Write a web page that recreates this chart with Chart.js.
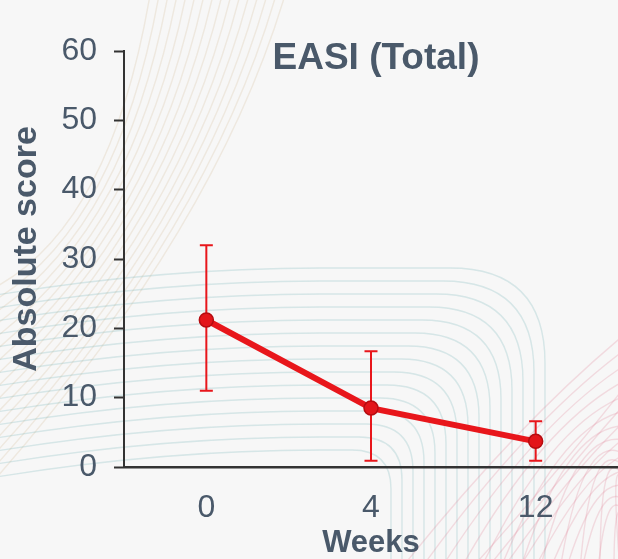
<!DOCTYPE html>
<html>
<head>
<meta charset="utf-8">
<script src="https://cdn.jsdelivr.net/npm/chart.js@4.4.0/dist/chart.umd.min.js"></script>
<style>
  html, body { margin: 0; padding: 0; background: #f7f7f7; }
  #wrap { position: relative; width: 618px; height: 559px; overflow: hidden; }
  #bg, #chart { position: absolute; left: 0; top: 0; }
</style>
</head>
<body>
<div id="wrap">
  <canvas id="bg" width="618" height="559"></canvas>
  <canvas id="chart" width="618" height="559"></canvas>
</div>
<script>
// EASI total score over time: mean with lower/upper whiskers
const weeks = ['0', '4', '12'];
const meanScore = [21.2, 8.5, 3.7];
const lowerBound = [11.0, 0.9, 0.9];
const upperBound = [32.0, 16.7, 6.6];
const yMin = 0, yMax = 60, yStep = 10;

const TEXT = '#4a596a';
const RED = '#e8161b';
const FONT = '"Liberation Sans", Arial, sans-serif';

// faint decorative line work behind the plot
(function drawBackdrop() {
  const c = document.getElementById('bg').getContext('2d');
  c.fillStyle = '#f7f7f7';
  c.fillRect(0, 0, 618, 559);
  c.lineWidth = 1.4;

  // warm sweeping lines, upper left
  c.strokeStyle = 'rgba(214,188,156,0.26)';
  for (let i = 0; i < 16; i++) {
    c.beginPath();
    c.moveTo(150 + i * 9, -5);
    c.quadraticCurveTo(110 + i * 7, 230, -10, 290 + i * 13);
    c.stroke();
  }
  // teal nested curves, lower middle
  c.strokeStyle = 'rgba(110,175,180,0.24)';
  for (let i = 0; i < 15; i++) {
    const y = 268 + i * 13, x = 545 - i * 11, r = 95 - i * 4;
    c.beginPath();
    c.moveTo(-10, y + 28);
    c.quadraticCurveTo(160, y, 320, y);
    c.lineTo(x - r, y);
    c.quadraticCurveTo(x, y, x, y + r);
    c.lineTo(x, 570);
    c.stroke();
  }
  // pink crossing lines, lower right
  c.strokeStyle = 'rgba(222,120,140,0.22)';
  for (let i = 0; i < 12; i++) {
    c.beginPath();
    c.moveTo(400 + i * 20, 570);
    c.quadraticCurveTo(520 + i * 8, 420, 630, 330 + i * 16);
    c.stroke();
  }
  for (let i = 0; i < 10; i++) {
    c.beginPath();
    c.moveTo(470 + i * 16, 570);
    c.quadraticCurveTo(560 + i * 6, 470, 630, 380 + i * 18);
    c.stroke();
  }
})();

// vertical whiskers with caps, drawn under the line and markers
const whiskers = {
  id: 'whiskers',
  beforeDatasetsDraw(chart) {
    const { ctx, scales: { x, y } } = chart;
    ctx.save();
    ctx.strokeStyle = RED;
    ctx.lineWidth = 2;
    weeks.forEach((w, i) => {
      const px = x.getPixelForValue(i);
      const top = y.getPixelForValue(upperBound[i]);
      const bot = y.getPixelForValue(lowerBound[i]);
      ctx.beginPath();
      ctx.moveTo(px, top); ctx.lineTo(px, bot);
      ctx.moveTo(px - 6.5, top); ctx.lineTo(px + 6.5, top);
      ctx.moveTo(px - 6.5, bot); ctx.lineTo(px + 6.5, bot);
      ctx.stroke();
    });
    ctx.restore();
  }
};

// heading inside the plot area and the rotated value-axis caption
const captions = {
  id: 'captions',
  afterDraw(chart) {
    const { ctx, chartArea } = chart;
    ctx.save();
    ctx.fillStyle = TEXT;
    ctx.textAlign = 'center';
    ctx.textBaseline = 'alphabetic';
    ctx.font = 'bold 37px ' + FONT;
    ctx.fillText('EASI (Total)', (chartArea.left + chartArea.right) / 2 + 5, chartArea.top + 18);

    ctx.translate(36, (chartArea.top + chartArea.bottom) / 2 - 10);
    ctx.rotate(-Math.PI / 2);
    ctx.font = 'bold 34px ' + FONT;
    ctx.fillText('Absolute score', 0, 0);
    ctx.restore();
  }
};

new Chart(document.getElementById('chart'), {
  type: 'line',
  data: {
    labels: weeks,
    datasets: [{
      data: meanScore,
      borderColor: RED,
      borderWidth: 6,
      pointRadius: 7,
      pointBackgroundColor: '#e3151a',
      pointBorderColor: '#b50c10',
      pointBorderWidth: 1.5,
      tension: 0,
      clip: false
    }]
  },
  options: {
    responsive: false,
    animation: false,
    devicePixelRatio: 1,
    layout: { autoPadding: false, padding: { top: 51, right: 0, left: 0, bottom: 0 } },
    plugins: { legend: { display: false }, tooltip: { enabled: false } },
    scales: {
      x: {
        type: 'category',
        offset: true,
        grid: { display: false, drawTicks: false },
        border: { display: true, color: '#333', width: 2.5 },
        ticks: { color: TEXT, font: { family: FONT, size: 32 }, padding: 22 },
        title: {
          display: true, text: 'Weeks', color: TEXT,
          font: { family: FONT, size: 31, weight: 'bold', lineHeight: 1 },
          padding: { top: 0, bottom: 0 }
        },
        afterFit(s) { s.height = 92; }
      },
      y: {
        min: yMin, max: yMax,
        ticks: { stepSize: yStep, color: TEXT, font: { family: FONT, size: 32 }, padding: 17 },
        grid: { drawOnChartArea: false, drawTicks: true, tickLength: 10, tickColor: '#333', tickWidth: 2 },
        border: { display: true, color: '#333', width: 2 },
        afterFit(s) { s.width = 124; }
      }
    }
  },
  plugins: [whiskers, captions]
});
</script>
</body>
</html>
